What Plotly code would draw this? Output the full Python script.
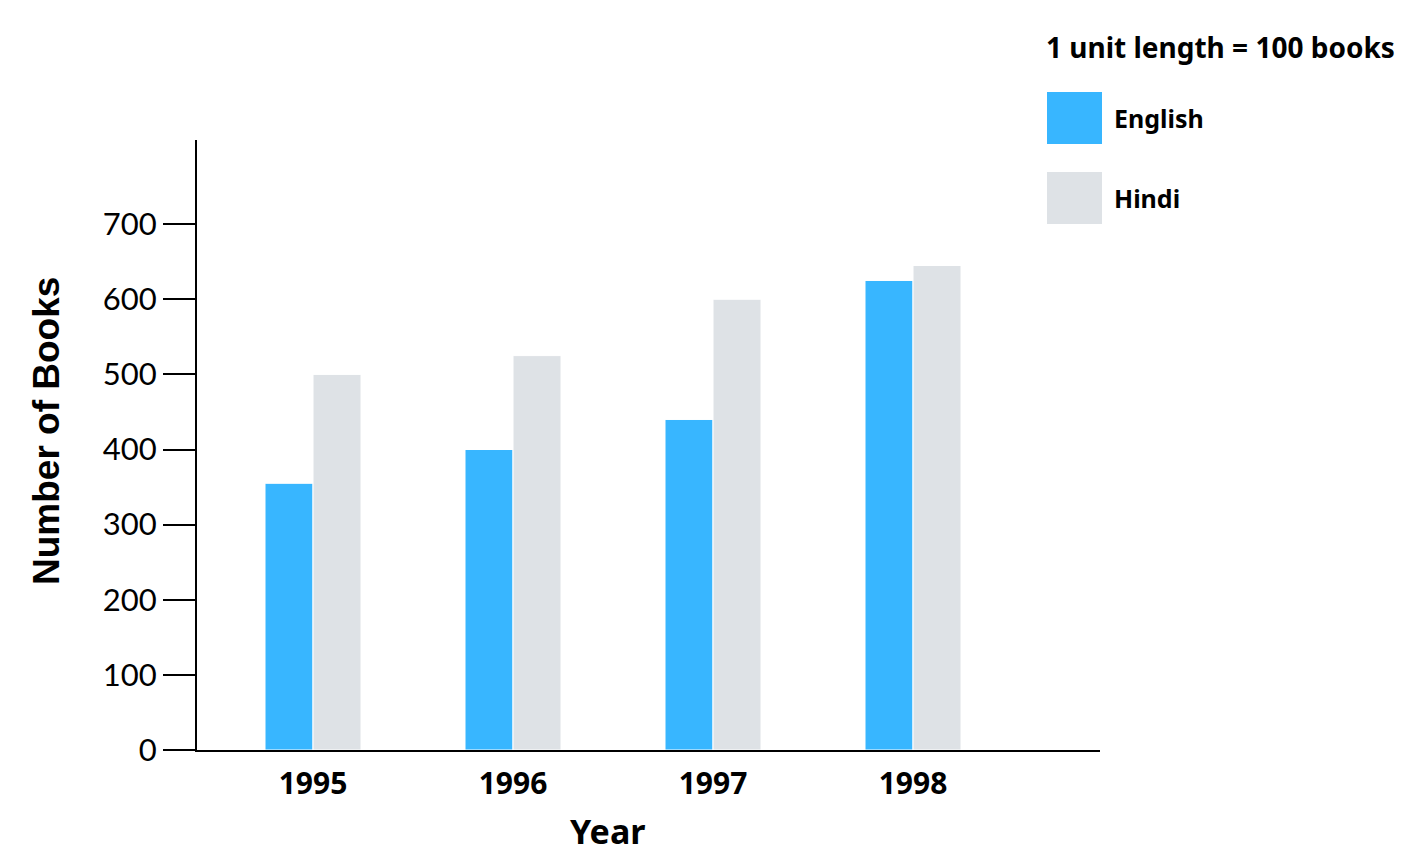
import plotly.graph_objects as go

years = ["1995", "1996", "1997", "1998"]
english = [355, 400, 440, 625]
hindi = [500, 525, 600, 645]
y_ticks = [0, 100, 200, 300, 400, 500, 600, 700]

BLUE = "#38B6FF"
GREY = "#DEE2E6"

# page body has an 8px margin, so the figure is sized/offset to compensate
PL, PT, PW, PH = 197, 140, 903, 610   # plot-area in page pixels

fig = go.Figure()
fig.add_trace(go.Bar(x=years, y=english, name="English", marker=dict(color=BLUE, line=dict(color="white", width=1))))
fig.add_trace(go.Bar(x=years, y=hindi, name="Hindi", marker=dict(color=GREY, line=dict(color="white", width=1))))

fig.update_layout(
    width=1411, height=849,
    margin=dict(l=PL - 8, r=1411 - (PL - 8) - PW, t=PT - 8, b=849 - (PT - 8) - PH, autoexpand=False),
    paper_bgcolor="white", plot_bgcolor="white",
    barmode="group", bargap=0.52, bargroupgap=0.0,
    showlegend=False,
    font=dict(family="Lato", color="black"),
)
fig.update_xaxes(
    type="category", range=[-0.58, 3.935], automargin=False,
    showline=True, linecolor="black", linewidth=2,
    ticks="", showgrid=False,
    tickfont=dict(family="Noto Sans", size=30, color="black", weight="bold"),
    ticklabelstandoff=6,
)
fig.update_yaxes(
    range=[0, 812], tickvals=y_ticks, ticktext=[str(v) for v in y_ticks], automargin=False,
    showline=True, linecolor="black", linewidth=2,
    ticks="outside", ticklen=32, tickwidth=2, tickcolor="black",
    showgrid=False, zeroline=False,
    tickfont=dict(family="Lato", size=31, color="black"),
)

def px(x):
    return (x - PL) / PW

def py(y):
    return (PT + PH - y) / PH

# axis titles
fig.add_annotation(xref="paper", yref="paper", x=px(607), y=py(831),
                   xanchor="center", yanchor="middle", showarrow=False,
                   text="<b>Year</b>", font=dict(family="Noto Sans", size=34, color="black"))
fig.add_annotation(xref="paper", yref="paper", x=px(47), y=py(431),
                   xanchor="center", yanchor="middle", showarrow=False, textangle=-90,
                   text="<b>Number of Books</b>", font=dict(family="Liberation Sans", size=37, color="black"))

# legend drawn manually with large swatches
fig.add_annotation(xref="paper", yref="paper", x=px(1044), y=py(47),
                   xanchor="left", yanchor="middle", showarrow=False,
                   text="<b>1 unit length = 100 books</b>", font=dict(family="Noto Sans", size=28, color="black"))
for i, (name, col) in enumerate([("English", BLUE), ("Hindi", GREY)]):
    top = 92 + i * 80
    fig.add_shape(type="rect", xref="paper", yref="paper",
                  x0=px(1047), x1=px(1102), y0=py(top + 52), y1=py(top),
                  fillcolor=col, line=dict(width=0))
    fig.add_annotation(xref="paper", yref="paper", x=px(1112), y=py(top + 26),
                       xanchor="left", yanchor="middle", showarrow=False,
                       text=f"<b>{name}</b>", font=dict(family="Noto Sans", size=25, color="black"))

fig.write_html("out.html")
